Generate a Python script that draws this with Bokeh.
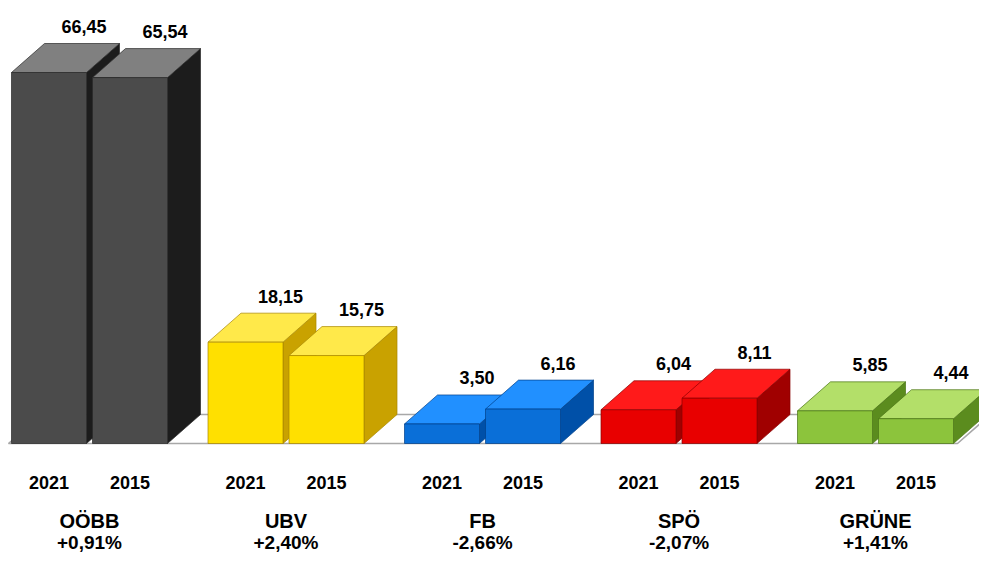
from bokeh.plotting import figure
from bokeh.models import Range1d
from bokeh.core.properties import value
from bokeh.embed import file_html
from bokeh.resources import INLINE

# ---------------- data ----------------
parties = ["OÖBB", "UBV", "FB", "SPÖ", "GRÜNE"]
years = ["2021", "2015"]
v2021 = [66.45, 18.15, 3.50, 6.04, 5.85]
v2015 = [65.54, 15.75, 6.16, 8.11, 4.44]
changes = ["+0,91%", "+2,40%", "-2,66%", "-2,07%", "+1,41%"]

# face colours per party: front, top, side, edge
front_col = ["#4b4b4b", "#ffe000", "#0a6fd8", "#e80000", "#8cc43c"]
top_col = ["#808080", "#ffe94a", "#2190ff", "#ff1a1a", "#b3df69"]
side_col = ["#1c1c1c", "#c9a200", "#0050a8", "#a00000", "#5b8c1e"]
edge_col = ["#2a2a2a", "#a88600", "#00408a", "#8a0000", "#4a7516"]

# ---------------- layout (pixels -> data units) ----------------
W_FIG, H_FIG = 979, 554
PX_X = 196.5      # px per party group
PX_Y = 5.583      # px per percentage point
X0_PX = 89        # first group centre from left edge
Y0_PX = 443       # baseline from top edge

BAR_W = 75 / PX_X
GAP = 3 / PX_X
DX = 33 / PX_X
DY = 29 / PX_Y

p = figure(width=W_FIG, height=H_FIG,
           x_range=Range1d(-X0_PX / PX_X, (W_FIG - X0_PX) / PX_X),
           y_range=Range1d(-(H_FIG - Y0_PX) / PX_Y, Y0_PX / PX_Y),
           x_axis_type=None, y_axis_type=None,
           output_backend="svg", toolbar_location=None,
           min_border=0, outline_line_color=None,
           background_fill_color="white", border_fill_color="white")
p.grid.visible = False

# floor
fl_left = -81 / PX_X
fl_right = len(parties) - 1 + GAP + BAR_W + 4 / PX_X
p.patch([fl_left, fl_right, fl_right + DX, fl_left + DX],
        [0, 0, DY, DY], fill_color="white",
        line_color="#a8a8a8", line_width=1.6)

# bars (side, top, front per bar, left bar before right bar)
xs, ys, fills, lines = [], [], [], []
lab_x, lab_y, lab_t = [], [], []
yr_x, yr_t = [], []
for i, party in enumerate(parties):
    for j, v in enumerate([v2021[i], v2015[i]]):
        if j == 0:
            l, r = i - GAP - BAR_W, i - GAP
        else:
            l, r = i + GAP, i + GAP + BAR_W
        xs.append([r, r + DX, r + DX, r]); ys.append([0, DY, v + DY, v])
        fills.append(side_col[i]); lines.append(edge_col[i])
        xs.append([l, r, r + DX, l + DX]); ys.append([v, v, v + DY, v + DY])
        fills.append(top_col[i]); lines.append(edge_col[i])
        xs.append([l, r, r, l]); ys.append([0, 0, v, v])
        fills.append(front_col[i]); lines.append(edge_col[i])
        lab_x.append((l + r) / 2 + 35 / PX_X)
        lab_y.append(v + DY + 17 / PX_Y)
        lab_t.append(f"{v:.2f}".replace(".", ","))
        yr_x.append((l + r) / 2)
        yr_t.append(years[j])

p.patches(xs, ys, fill_color=fills, line_color=lines, line_width=1, line_alpha=0.7)

font = value("Liberation Sans")
p.text(x=lab_x, y=lab_y, text=lab_t, text_font=font, text_font_size="18px",
       text_font_style="bold", text_align="center", text_baseline="middle",
       text_color="black")
p.text(x=yr_x, y=[-39 / PX_Y] * len(yr_x), text=yr_t, text_font=font,
       text_font_size="18px", text_font_style="bold", text_align="center",
       text_baseline="middle", text_color="black")
gx = list(range(len(parties)))
p.text(x=gx, y=[-77 / PX_Y] * len(gx), text=parties, text_font=font,
       text_font_size="20px", text_font_style="bold", text_align="center",
       text_baseline="middle", text_color="black")
p.text(x=gx, y=[-99 / PX_Y] * len(gx), text=changes, text_font=font,
       text_font_size="19px", text_font_style="bold", text_align="center",
       text_baseline="middle", text_color="black")

open("out.html", "w").write(file_html(p, INLINE))
